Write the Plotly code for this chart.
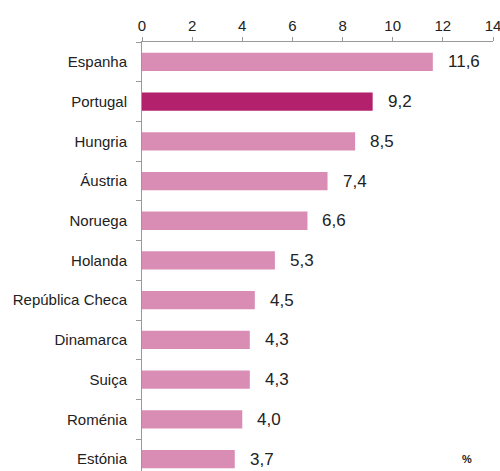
import plotly.graph_objects as go

countries = ["Espanha", "Portugal", "Hungria", "Áustria", "Noruega", "Holanda",
             "República Checa", "Dinamarca", "Suiça", "Roménia", "Estónia"]
values = [11.6, 9.2, 8.5, 7.4, 6.6, 5.3, 4.5, 4.3, 4.3, 4.0, 3.7]
labels = ["11,6", "9,2", "8,5", "7,4", "6,6", "5,3", "4,5", "4,3", "4,3", "4,0", "3,7"]
highlight = "Portugal"

light = "#DA8DB4"
dark = "#B3206C"
colors = [dark if c == highlight else light for c in countries]

FONT = "Liberation Sans, Arial"

fig = go.Figure()
fig.add_trace(go.Bar(
    x=values, y=countries, orientation="h",
    marker=dict(color=colors, line=dict(width=0)),
    width=0.46, hoverinfo="skip",
))

for c, v, t in zip(countries, values, labels):
    fig.add_annotation(x=v, y=c, text=t, xanchor="left", yanchor="middle",
                       xshift=13, showarrow=False,
                       font=dict(family=FONT, size=17, color="#222"))

fig.add_annotation(x=0.926, y=0.028, xref="paper", yref="paper", text="<b>%</b>",
                   xanchor="center", yanchor="middle",
                   showarrow=False, font=dict(family=FONT, size=11, color="#222"))

fig.update_layout(
    width=500, height=471,
    margin=dict(l=142, r=7, t=42, b=0),
    paper_bgcolor="white", plot_bgcolor="white",
    showlegend=False,
    font=dict(family=FONT, size=15, color="#222"),
    xaxis=dict(side="top", range=[0, 14], dtick=2, showgrid=False, zeroline=False,
               showline=True, linecolor="#999", linewidth=1,
               ticks="outside", ticklen=4, tickcolor="#999",
               ticklabeloverflow="allow",
               tickfont=dict(size=15, color="#222"), fixedrange=True),
    yaxis=dict(range=[10.3, -0.5], showgrid=False, zeroline=False,
               showline=True, linecolor="#999", linewidth=1,
               ticks="outside", ticklen=5, tickcolor="#999", tickson="boundaries",
               tickfont=dict(size=15, color="#222"), ticklabelstandoff=11, fixedrange=True),
)

fig.write_html("out.html")
